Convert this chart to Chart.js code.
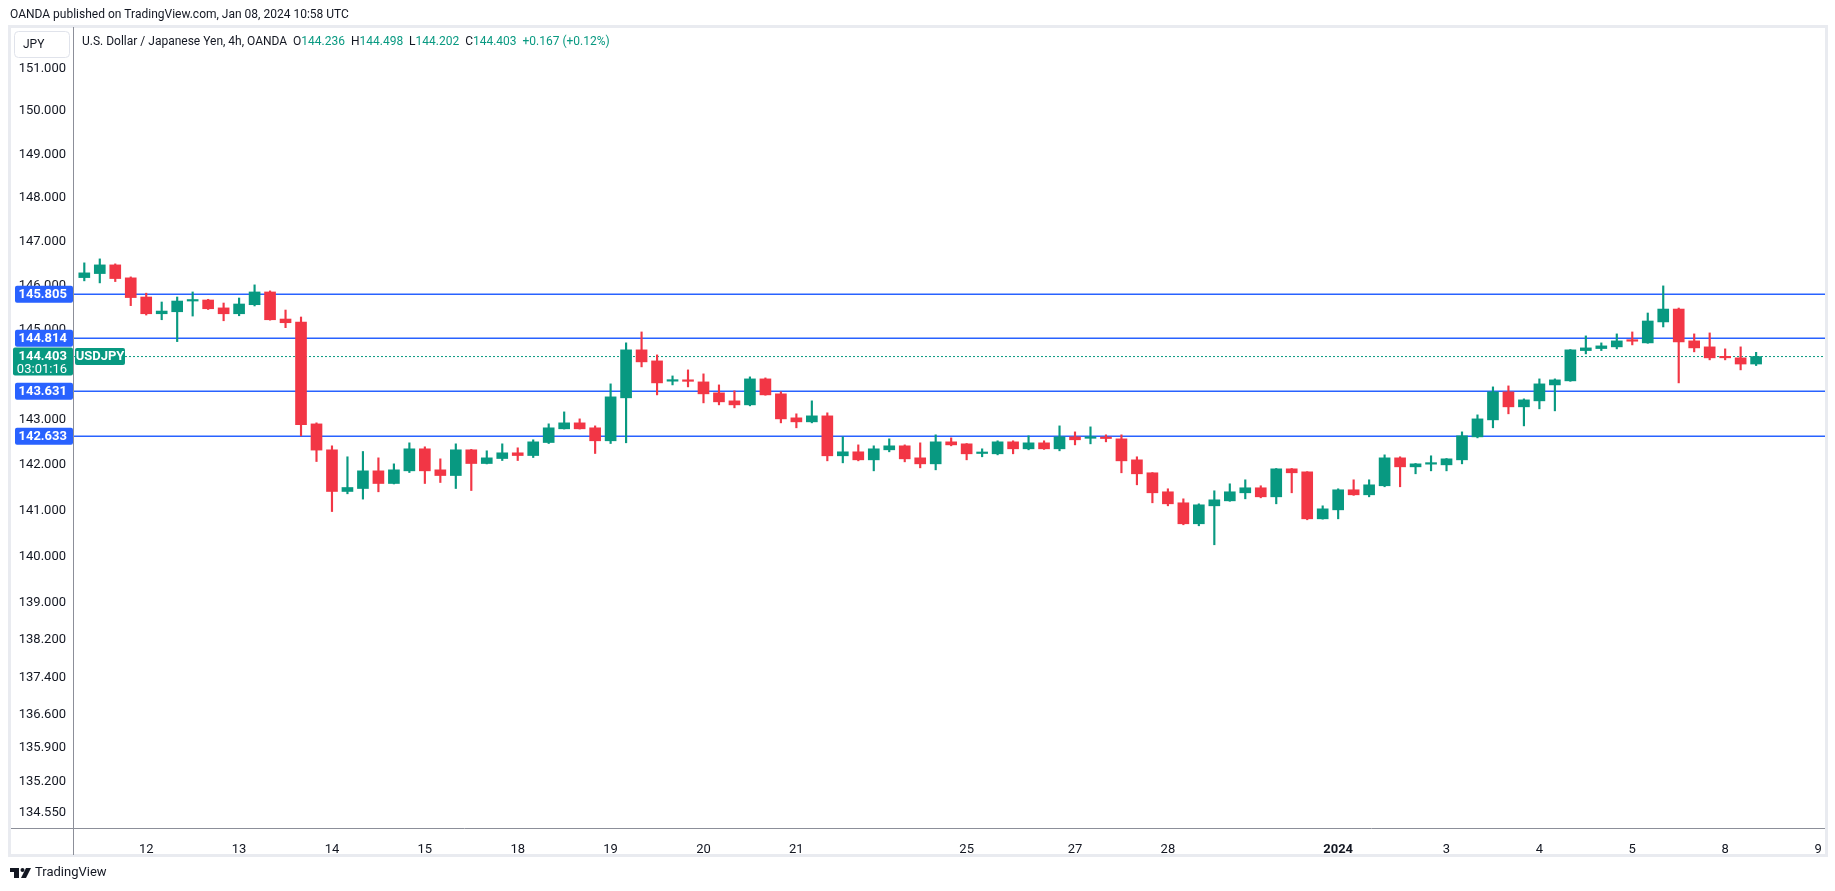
<!DOCTYPE html>
<html>
<head>
<meta charset="utf-8">
<script src="https://cdn.jsdelivr.net/npm/chart.js@4.4.1/dist/chart.umd.min.js"></script>
<style>
  html, body { margin: 0; padding: 0; background: #fff; }
  #c { display: block; }
</style>
</head>
<body>
<canvas id="c" width="1835" height="891"></canvas>
<script>
// USD/JPY 4h candles, Dec 11 2023 -> Jan 8 2024
const OPEN = [
  146.181, 146.272, 146.469, 146.175, 145.742, 145.364, 145.409, 145.651, 145.674, 145.496,
  145.364, 145.568, 145.856, 145.245, 145.179, 142.904, 142.331, 141.415, 141.480, 141.868,
  141.590, 141.868, 142.353, 141.890, 141.765, 142.331, 142.029, 142.139, 142.265, 142.205,
  142.492, 142.795, 142.927, 142.817, 142.530, 143.482, 144.553, 144.306, 143.853, 143.860,
  143.837, 143.593, 143.415, 143.326, 143.904, 143.571, 143.038, 142.949, 143.082, 142.199,
  142.287, 142.110, 142.331, 142.419, 142.154, 142.022, 142.507, 142.463, 142.250, 142.243,
  142.507, 142.353, 142.485, 142.353, 142.617, 142.585, 142.595, 142.573, 142.110, 141.825,
  141.408, 141.167, 140.709, 141.101, 141.210, 141.386, 141.496, 141.298, 141.912, 141.846,
  140.817, 141.013, 141.452, 141.342, 141.540, 142.154, 141.956, 142.015, 142.000, 142.110,
  142.617, 142.993, 143.615, 143.282, 143.415, 143.770, 143.860, 144.537, 144.582, 144.620,
  144.758, 144.709, 145.180, 145.470, 144.754, 144.620, 144.390, 144.374, 144.236
];
const HIGH = [
  146.515, 146.605, 146.492, 146.197, 145.828, 145.629, 145.742, 145.856, 145.690, 145.606,
  145.719, 146.016, 145.880, 145.448, 145.291, 142.927, 142.419, 142.177, 142.294, 142.154,
  142.022, 142.485, 142.397, 142.132, 142.463, 142.340, 142.309, 142.463, 142.375, 142.552,
  142.905, 143.170, 143.015, 142.860, 143.793, 144.710, 144.955, 144.440, 143.970, 144.105,
  144.016, 143.770, 143.637, 143.949, 143.926, 143.615, 143.127, 143.415, 143.149, 142.617,
  142.440, 142.419, 142.573, 142.440, 142.485, 142.662, 142.595, 142.470, 142.353, 142.530,
  142.530, 142.640, 142.530, 142.860, 142.727, 142.838, 142.662, 142.662, 142.177, 141.830,
  141.474, 141.254, 141.145, 141.430, 141.583, 141.671, 141.540, 141.920, 141.920, 141.850,
  141.101, 141.474, 141.671, 141.671, 142.220, 142.177, 142.030, 142.199, 142.140, 142.727,
  143.104, 143.726, 143.748, 143.459, 143.904, 143.904, 144.560, 144.866, 144.709, 144.911,
  144.955, 145.381, 145.993, 145.493, 144.911, 144.933, 144.575, 144.620, 144.498
];
const LOW = [
  146.107, 146.061, 146.091, 145.547, 145.335, 145.229, 144.738, 145.312, 145.460, 145.206,
  145.319, 145.540, 145.220, 145.051, 142.638, 142.073, 140.976, 141.364, 141.248, 141.408,
  141.580, 141.831, 141.590, 141.612, 141.480, 141.436, 142.020, 142.095, 142.095, 142.161,
  142.470, 142.790, 142.790, 142.250, 142.470, 142.486, 144.172, 143.548, 143.770, 143.726,
  143.370, 143.326, 143.260, 143.304, 143.540, 142.927, 142.817, 142.927, 142.088, 142.044,
  142.088, 141.868, 142.287, 142.066, 141.934, 141.890, 142.419, 142.110, 142.177, 142.220,
  142.243, 142.331, 142.340, 142.309, 142.440, 142.463, 142.507, 141.825, 141.561, 141.167,
  141.101, 140.687, 140.665, 140.252, 141.200, 141.254, 141.276, 141.145, 141.386, 140.796,
  140.810, 140.817, 141.330, 141.298, 141.518, 141.518, 141.803, 141.868, 141.868, 142.022,
  142.595, 142.817, 143.127, 142.860, 143.238, 143.193, 143.850, 144.463, 144.537, 144.575,
  144.664, 144.700, 145.067, 143.815, 144.508, 144.329, 144.329, 144.105, 144.202
];
const CLOSE = [
  146.288, 146.469, 146.159, 145.729, 145.364, 145.425, 145.651, 145.680, 145.477, 145.364,
  145.584, 145.856, 145.229, 145.162, 142.889, 142.325, 141.415, 141.502, 141.868, 141.590,
  141.890, 142.353, 141.868, 141.765, 142.331, 142.029, 142.154, 142.265, 142.205, 142.507,
  142.817, 142.927, 142.795, 142.530, 143.504, 144.553, 144.284, 143.815, 143.860, 143.850,
  143.571, 143.393, 143.326, 143.904, 143.548, 143.015, 142.949, 143.082, 142.199, 142.287,
  142.110, 142.353, 142.419, 142.132, 142.022, 142.507, 142.440, 142.243, 142.265, 142.507,
  142.353, 142.485, 142.353, 142.617, 142.552, 142.595, 142.580, 142.088, 141.803, 141.386,
  141.145, 140.709, 141.123, 141.232, 141.408, 141.496, 141.298, 141.912, 141.825, 140.817,
  141.035, 141.452, 141.342, 141.561, 142.154, 141.956, 142.022, 142.022, 142.132, 142.640,
  143.015, 143.615, 143.282, 143.437, 143.793, 143.882, 144.553, 144.597, 144.642, 144.754,
  144.747, 145.201, 145.470, 144.731, 144.597, 144.374, 144.375, 144.236, 144.403
];

// day labels sit on the first candle of each session
const DAY_TICKS = [4, 10, 16, 22, 28, 34, 40, 46, 57, 64, 70, 81, 88, 94, 100, 106, 112];
const DAY_LABELS = ["12", "13", "14", "15", "18", "19", "20", "21", "25", "27", "28", "2024", "3", "4", "5", "8", "9"];

const PRICE_TICKS = [151, 150, 149, 148, 147, 146, 145, 143, 142, 141, 140, 139, 138.2, 137.4, 136.6, 135.9, 135.2, 134.55];
const LEVELS = [145.805, 144.814, 143.631, 142.633];

const UP = "#089981", DOWN = "#f23645", BLUE = "#2962ff", INK = "#131722";
const FONT = 'Roboto, "Liberation Sans", sans-serif';
const X_MIN = -0.73, X_MAX = 112.45;

const idx = OPEN.map((_, i) => i);
const last = idx.length - 1;
const lastClose = CLOSE[last];
const chg = CLOSE[last] - CLOSE[last - 1];
const candleColor = idx.map(i => CLOSE[i] >= OPEN[i] ? UP : DOWN);

function roundRect(c, x, y, w, h, r) {
  c.beginPath();
  c.moveTo(x + r, y);
  c.arcTo(x + w, y, x + w, y + h, r);
  c.arcTo(x + w, y + h, x, y + h, r);
  c.arcTo(x, y + h, x, y, r);
  c.arcTo(x, y, x + w, y, r);
  c.closePath();
}

const decor = {
  id: "decor",
  beforeDraw(chart) {
    const c = chart.ctx;
    c.save();
    c.fillStyle = "#fff";
    c.fillRect(0, 0, chart.width, chart.height);
    c.fillStyle = INK;
    c.font = "12px " + FONT;
    c.textBaseline = "middle";
    c.fillText("OANDA published on TradingView.com, Jan 08, 2024 10:58 UTC", 10, 15);
    c.restore();
  },
  afterDraw(chart) {
    const c = chart.ctx, a = chart.chartArea, ys = chart.scales.y;
    c.save();

    // pane frame
    c.strokeStyle = "#e9ebf0";
    c.lineWidth = 3;
    c.strokeRect(9.5, 26.5, 1817, 829);

    // axis separators
    c.strokeStyle = "#8c8f99";
    c.lineWidth = 1;
    c.beginPath();
    c.moveTo(Math.round(a.left) + 0.5, 27);
    c.lineTo(Math.round(a.left) + 0.5, 855);
    c.moveTo(11, Math.round(a.bottom) + 0.5);
    c.lineTo(1825, Math.round(a.bottom) + 0.5);
    c.stroke();

    // currency box + legend
    c.fillStyle = "#fff";
    roundRect(c, 14.5, 31.5, 55, 26, 4);
    c.fill();
    c.strokeStyle = "#e0e3eb";
    c.stroke();
    c.fillStyle = INK;
    c.font = "12px " + FONT;
    c.textBaseline = "middle";
    c.textAlign = "left";
    c.fillText("JPY", 23, 45);

    const pct = chg / CLOSE[last - 1] * 100;
    const parts = [
      ["U.S. Dollar / Japanese Yen, 4h, OANDA  ", INK],
      ["O", INK], [OPEN[last].toFixed(3) + "  ", UP],
      ["H", INK], [HIGH[last].toFixed(3) + "  ", UP],
      ["L", INK], [LOW[last].toFixed(3) + "  ", UP],
      ["C", INK], [CLOSE[last].toFixed(3) + "  ", UP],
      [(chg >= 0 ? "+" : "") + chg.toFixed(3) + " (" + (pct >= 0 ? "+" : "") + pct.toFixed(2) + "%)", UP]
    ];
    let x = 82;
    for (const [t, col] of parts) {
      c.fillStyle = col;
      c.fillText(t, x, 42);
      x += c.measureText(t).width;
    }

    // level tags on the price axis
    c.font = "bold 13px " + FONT;
    c.textAlign = "right";
    for (const v of LEVELS) {
      const py = ys.getPixelForValue(v);
      c.fillStyle = BLUE;
      roundRect(c, 15, py - 8.5, 58, 17, 2);
      c.fill();
      c.fillStyle = "#fff";
      c.fillText(v.toFixed(3), 67, py + 0.5);
    }

    // last price tag with countdown
    const ly = ys.getPixelForValue(lastClose);
    c.fillStyle = UP;
    roundRect(c, 13, ly - 9, 60, 28, 2);
    c.fill();
    c.fillStyle = "#fff";
    c.fillText(lastClose.toFixed(3), 67, ly + 0.5);
    c.font = "13px " + FONT;
    c.fillText("03:01:16", 67, ly + 13.5);

    // symbol tag
    c.fillStyle = UP;
    roundRect(c, 75, ly - 8.5, 50, 17, 2);
    c.fill();
    c.fillStyle = "#fff";
    c.font = "bold 13px " + FONT;
    c.textAlign = "center";
    c.fillText("USDJPY", 100, ly + 0.5);

    // TradingView mark
    c.fillStyle = INK;
    c.fillRect(10, 868, 9, 4);
    c.fillRect(14, 868, 5, 10);
    c.beginPath();
    c.arc(22.5, 870, 2, 0, Math.PI * 2);
    c.fill();
    c.beginPath();
    c.moveTo(26, 868); c.lineTo(31, 868); c.lineTo(26, 878); c.lineTo(21, 878);
    c.closePath();
    c.fill();
    c.textAlign = "left";
    c.font = "13px " + FONT;
    c.fillText("TradingView", 35, 873);

    c.restore();
  }
};

const levelSets = LEVELS.map(v => ({
  type: "line",
  data: [{x: X_MIN, y: v}, {x: X_MAX, y: v}],
  borderColor: BLUE, borderWidth: 1.5, pointRadius: 0, order: 5
}));

new Chart(document.getElementById("c"), {
  type: "bar",
  data: {
    datasets: [
      {
        data: idx.map(i => ({x: i, y: [OPEN[i], CLOSE[i]]})),
        backgroundColor: candleColor, barThickness: 11, minBarLength: 1.5,
        borderWidth: 0, grouped: false, order: 1
      },
      {
        data: idx.map(i => ({x: i, y: [LOW[i], HIGH[i]]})),
        backgroundColor: candleColor, barThickness: 1.5,
        borderWidth: 0, grouped: false, order: 2
      },
      {
        type: "line",
        data: [{x: X_MIN, y: lastClose}, {x: X_MAX, y: lastClose}],
        borderColor: UP, borderWidth: 1, borderDash: [2, 2], pointRadius: 0, order: 4
      },
      ...levelSets
    ]
  },
  options: {
    responsive: false,
    animation: false,
    events: [],
    layout: {padding: {left: 9, top: 26, right: 10, bottom: 36}},
    plugins: {legend: {display: false}, tooltip: {enabled: false}},
    scales: {
      x: {
        type: "linear", min: X_MIN, max: X_MAX, offset: false,
        grid: {display: false, offset: false},
        border: {display: false},
        afterBuildTicks: s => { s.ticks = DAY_TICKS.map(v => ({value: v})); },
        afterFit: s => { s.height = 27; },
        ticks: {
          autoSkip: false, maxRotation: 0, padding: 6, color: INK,
          font: ctx => ({family: FONT, size: 13, weight: DAY_LABELS[ctx.index] === "2024" ? "bold" : "normal"}),
          callback: (v, i) => DAY_LABELS[i]
        }
      },
      y: {
        type: "logarithmic", position: "left", min: 134.229, max: 151.993,
        grid: {display: false, drawTicks: false},
        border: {display: false},
        afterBuildTicks: s => { s.ticks = PRICE_TICKS.map(v => ({value: v})); },
        afterFit: s => { s.width = 64; },
        ticks: {
          autoSkip: false, padding: 7, color: INK,
          font: {family: FONT, size: 13},
          callback: v => Number(v).toFixed(3)
        }
      }
    }
  },
  plugins: [decor]
});
</script>
</body>
</html>
